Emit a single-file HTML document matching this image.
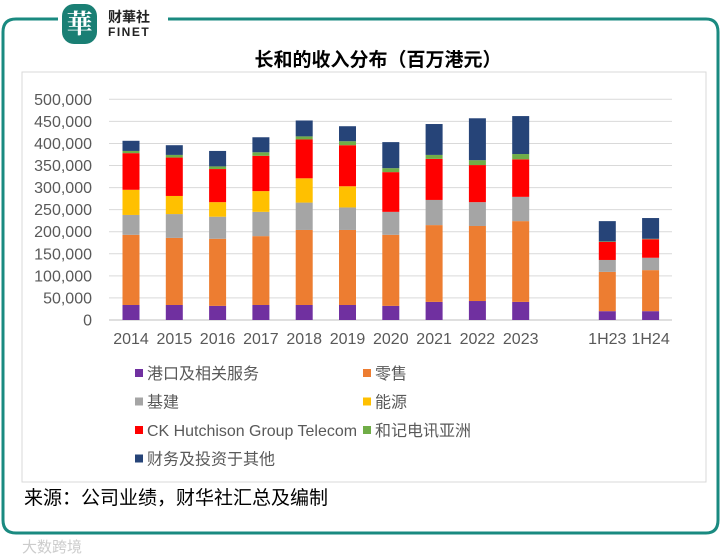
<!DOCTYPE html>
<html><head><meta charset="utf-8">
<style>
body{margin:0;width:720px;height:557px;background:#fff;position:relative;overflow:hidden;font-family:"Liberation Sans","Noto Sans CJK SC",sans-serif;}
.abs{position:absolute;}
</style></head><body>
<svg class="abs" style="left:0;top:0" width="720" height="557">
  <path d="M58 19 H16 Q3 19 3 32 V520 Q3 533 16 533 H706 Q718 533 718 520 V32 Q718 19 706 19 H168" fill="none" stroke="#1a8a80" stroke-width="3"/>
  <rect x="22" y="72" width="684" height="410" fill="none" stroke="#d9d9d9" stroke-width="1"/>
  <rect x="62" y="4" width="35" height="40" rx="12" fill="#1a7f74"/>
  <text x="79.5" y="33" font-size="26" fill="#fff" text-anchor="middle" font-family="'Noto Serif CJK SC',serif" font-weight="bold">華</text>
  <text x="108" y="22" font-size="14" font-weight="bold" fill="#222">财華社</text>
  <text x="108" y="36" font-size="12" font-weight="bold" fill="#222" letter-spacing="1.5">FINET</text>
  <text x="378" y="66" font-size="19" font-weight="bold" fill="#000" text-anchor="middle">长和的收入分布（百万港元）</text>
  <text x="24" y="504" font-size="19" fill="#000">来源：公司业绩，财华社汇总及编制</text>
  <text x="22" y="552" font-size="15" fill="#ccc">大数跨境</text>
  <g id="chart"></g>
  <g id="legend"></g>
</svg>
<script>
const categories=["2014","2015","2016","2017","2018","2019","2020","2021","2022","2023","","1H23","1H24"];
const seriesNames=["港口及相关服务","零售","基建","能源","CK Hutchison Group Telecom","和记电讯亚洲","财务及投资于其他"];
const colors=["#7030a0","#ed7d31","#a5a5a5","#ffc000","#ff0000","#70ad47","#264478"];
const ports=[34,34,32,34,34,34,32,41,43,41,null,20,20];
const retail=[159,152,152,156,170,170,161,174,170,183,null,89,93];
const infra=[45,54,50,55,62,51,52,57,54,55,null,27,28];
const energy=[57,41,33,47,55,48,0,0,0,0,null,0,0];
const telecom=[83,87,75,80,88,93,90,93,84,85,null,41,42];
const hta=[5,6,6,8,7,9,9,9,11,12,null,1,1];
const finance=[23,22,35,34,36,34,59,70,95,86,null,46,47];
const series=[ports,retail,infra,energy,telecom,hta,finance];
const yTicks=[0,50,100,150,200,250,300,350,400,450,500];
const NS="http://www.w3.org/2000/svg";
const g=document.getElementById('chart');
const y0=320,yTop=99.3,yMax=500;
const y=v=>y0-(v/yMax)*(y0-yTop);
const x=i=>131+43.3*i;
function el(t,a){const e=document.createElementNS(NS,t);for(const k in a)e.setAttribute(k,a[k]);return e;}
yTicks.forEach(t=>{
  const l=el('line',{x1:109,x2:672,y1:y(t),y2:y(t),stroke:t===0?'#bfbfbf':'#d9d9d9','stroke-width':1});
  
  
  g.appendChild(l);
  const tx=el('text',{x:92,y:y(t)+5.5,'font-size':16,fill:'#595959','text-anchor':'end'});
  tx.textContent=(t*1000).toLocaleString('en-US');
  
  
  g.appendChild(tx);
});
categories.forEach((c,i)=>{
  if(!c)return;
  let cum=0;
  series.forEach((s,k)=>{
    const v=s[i]||0;
    if(v>0){
      const r=el('rect',{x:x(i)-8.5,y:y(cum+v),width:17,height:y(cum)-y(cum+v),fill:colors[k]});
      
      
      g.appendChild(r);
    }
    cum+=v;
  });
  const tx=el('text',{x:x(i),y:344,'font-size':16,fill:'#595959','text-anchor':'middle'});
  tx.textContent=c;
  
  
  g.appendChild(tx);
});
const lg=document.getElementById('legend');
seriesNames.forEach((n,k)=>{
  const col=k%2, row=Math.floor(k/2);
  const lx=col?365:137, ly=373+row*28.5;
  const r=el('rect',{x:lx-2,y:ly-4,width:8,height:8,fill:colors[k]});
  
  
  lg.appendChild(r);
  const tx=el('text',{x:lx+10,y:ly+6,'font-size':16,fill:'#595959'});
  if(k===4){tx.setAttribute('textLength',210);tx.setAttribute('lengthAdjust','spacingAndGlyphs');}
  tx.textContent=n;
  
  
  lg.appendChild(tx);
});
</script>
</body></html>
